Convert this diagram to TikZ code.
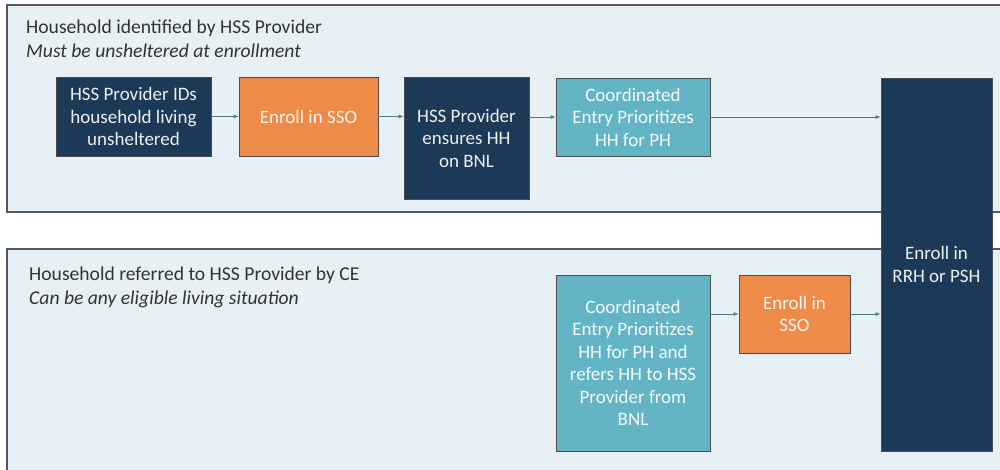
\documentclass[tikz,border=0pt]{standalone}
\usepackage{fontspec}
\setmainfont{Carlito}
\usetikzlibrary{arrows.meta}
\definecolor{navy}{HTML}{1C3A57}
\definecolor{orng}{HTML}{EE8B48}
\definecolor{teal}{HTML}{63B5C6}
\definecolor{panelbg}{HTML}{E7F0F5}
\definecolor{panelln}{HTML}{505A60}
\definecolor{arrc}{HTML}{4F7C84}
\definecolor{ttext}{HTML}{333333}
\tikzset{
  panel/.style={draw=panelln, line width=1.3pt, fill=panelbg},
  boxbase/.style={draw=black!70, line width=0.8pt, inner sep=0pt, align=center,
    font=\fontsize{19}{22.5}\selectfont},
  navybox/.style={boxbase, fill=navy, text=white!92!navy},
  orangebox/.style={boxbase, fill=orng, text=white!90!orng},
  tealbox/.style={boxbase, fill=teal, text=white!92!teal},
  ptitle/.style={anchor=west, inner sep=0pt, text=ttext, font=\fontsize{19.6}{22}\selectfont},
  psub/.style={anchor=west, inner sep=0pt, text=ttext, font=\fontsize{19.6}{22}\selectfont\itshape},
  arr/.style={draw=arrc, line width=0.8pt, -{Latex[length=5pt,width=4pt]}}
}
\begin{document}
\begin{tikzpicture}[x=1pt,y=-1pt]
\useasboundingbox (0,0) rectangle (1000,470);
\clip (0,0) rectangle (1000,470);
\fill[white] (0,0) rectangle (1000,470);
% panels
\draw[panel] (7,5) rectangle (1012,212);
\draw[panel] (7,249) rectangle (1012,480);
\node[ptitle] (t1) at (26,28) {Household identified by HSS Provider};
\node[psub] (s1) at (26,51) {Must be unsheltered at enrollment};
\node[ptitle] (t2) at (29,275) {Household referred to HSS Provider by CE};
\node[psub] (s2) at (29,299) {Can be any eligible living situation};
% boxes
\node[navybox, minimum width=155pt, minimum height=79pt] (b1) at (133.5,116.5)
  {HSS Provider IDs\\household living\\unsheltered};
\node[orangebox, minimum width=139pt, minimum height=79pt] (b2) at (308.5,116.5)
  {Enroll in SSO};
\node[navybox, minimum width=125pt, minimum height=122pt] (b3) at (466.5,138)
  {HSS Provider\\ensures HH\\on BNL};
\node[tealbox, minimum width=154pt, minimum height=78pt] (b4) at (633,117)
  {Coordinated\\Entry Prioritizes\\HH for PH};
\node[navybox, minimum width=111pt, minimum height=373pt] (b5) at (936.5,264.5)
  {Enroll in\\RRH or PSH};
\node[tealbox, minimum width=154pt, minimum height=176pt] (b6) at (633,363)
  {Coordinated\\Entry Prioritizes\\HH for PH and\\refers HH to HSS\\Provider from\\BNL};
\node[orangebox, minimum width=111pt, minimum height=78pt] (b7) at (794.5,314)
  {Enroll in\\SSO};
% arrows
\draw[arr] (b1.east) -- (b2.west);
\draw[arr] (b2.east) -- (b2.east -| b3.west);
\draw[arr] (b4.west -| b3.east) -- (b4.west);
\draw[arr] (b4.east) -- (b4.east -| b5.west);
\draw[arr] (b7.west -| b6.east) -- (b7.west);
\draw[arr] (b7.east) -- (b7.east -| b5.west);
\end{tikzpicture}
\end{document}
